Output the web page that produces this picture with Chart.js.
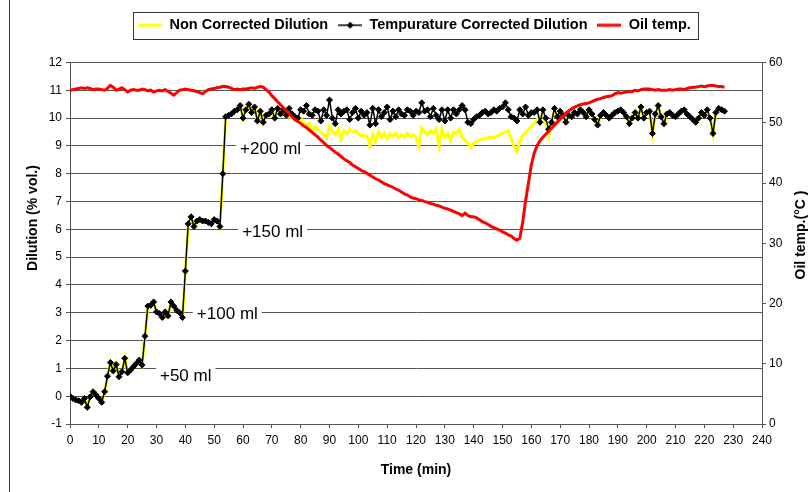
<!DOCTYPE html>
<html>
<head>
<meta charset="utf-8">
<script src="https://cdn.jsdelivr.net/npm/chart.js@4/dist/chart.umd.min.js"></script>
<style>
  html, body { margin: 0; padding: 0; background: #fff; }
  #wrap { width: 811px; height: 492px; }
</style>
</head>
<body>
<div id="wrap"><canvas id="dilutionChart" width="811" height="492"></canvas></div>
<script>
// one reading per minute, starting at t = 0
var dilutionRaw = [
  0.00, -0.08, -0.14, -0.16, -0.22, -0.08, -0.40, -0.02, 0.16, 0.04,
  -0.08, -0.22, 0.16, 0.72, 1.21, 0.91, 1.14, 0.70, 0.88, 1.36,
  0.84, 0.94, 1.06, 1.18, 1.30, 1.12, 2.16, 3.24, 3.27, 3.39,
  3.03, 2.97, 2.83, 3.03, 2.89, 3.39, 3.24, 3.09, 3.00, 2.83,
  4.50, 6.20, 6.45, 6.10, 6.30, 6.35, 6.30, 6.30, 6.25, 6.20,
  6.35, 6.30, 6.10, 8.00, 10.05, 10.10, 10.15, 10.25, 10.30, 10.45,
  10.00, 10.30, 10.50, 10.20, 10.40, 9.90, 10.25, 9.85, 10.10, 10.15,
  10.30, 10.00, 10.35, 10.15, 10.30, 10.05, 10.05, 10.00, 9.95, 9.90,
  10.00, 9.85, 9.70, 9.80, 9.55, 9.70, 9.60, 9.50, 9.40, 9.28,
  9.70, 9.50, 9.40, 9.60, 9.25, 9.55, 9.45, 9.60, 9.50, 9.55,
  9.45, 9.35, 9.40, 9.35, 9.00, 9.40, 9.15, 9.50, 9.30, 9.45,
  9.25, 9.45, 9.35, 9.45, 9.30, 9.40, 9.30, 9.45, 9.35, 9.40,
  9.30, 9.00, 9.65, 9.50, 9.40, 9.55, 9.45, 9.60, 9.00, 9.60,
  9.30, 9.45, 9.20, 9.50, 9.45, 9.60, 9.30, 9.20, 9.10, 8.95,
  9.10, 9.15, 9.20, 9.25, 9.25, 9.30, 9.30, 9.30, 9.35, 9.40,
  9.45, 9.50, 9.55, 9.25, 9.00, 8.80, 9.15, 9.40, 9.45, 9.60,
  9.70, 9.80, 9.95, 10.05, 10.10, 9.80, 9.35, 9.80, 10.30, 10.00,
  10.20, 10.10, 9.85, 10.10, 10.05, 10.20, 10.15, 10.30, 10.20, 10.05,
  10.30, 10.15, 9.95, 9.75, 10.10, 10.20, 10.10, 10.00, 10.10, 10.20,
  10.25, 10.30, 10.20, 10.05, 9.80, 10.00, 10.20, 10.00, 10.40, 10.00,
  10.20, 10.25, 9.45, 10.15, 10.45, 10.05, 9.80, 10.15, 10.20, 10.10,
  10.05, 10.15, 10.25, 10.30, 10.15, 10.05, 9.95, 9.85, 10.00, 10.20,
  10.10, 10.30, 10.00, 9.45, 10.20, 10.35, 10.30, 10.25
];

var dilutionCorrected = [
  0.00, -0.08, -0.14, -0.16, -0.22, -0.08, -0.40, -0.02, 0.16, 0.04,
  -0.08, -0.22, 0.16, 0.72, 1.21, 0.91, 1.14, 0.70, 0.88, 1.36,
  0.84, 0.94, 1.06, 1.18, 1.30, 1.12, 2.16, 3.24, 3.27, 3.39,
  3.03, 2.97, 2.83, 3.03, 2.89, 3.39, 3.24, 3.09, 3.00, 2.83,
  4.50, 6.20, 6.45, 6.10, 6.30, 6.35, 6.30, 6.30, 6.25, 6.20,
  6.35, 6.30, 6.10, 8.00, 10.05, 10.10, 10.15, 10.25, 10.30, 10.45,
  10.00, 10.30, 10.50, 10.20, 10.40, 9.90, 10.25, 9.85, 10.10, 10.15,
  10.30, 10.00, 10.35, 10.15, 10.30, 10.10, 10.35, 10.15, 10.05, 10.00,
  10.30, 10.25, 10.45, 10.15, 10.10, 10.30, 10.25, 9.90, 10.30, 10.10,
  10.65, 10.00, 9.80, 10.30, 10.15, 10.25, 10.30, 9.95, 10.20, 10.35,
  10.00, 10.25, 10.10, 10.20, 9.75, 10.35, 9.80, 10.30, 10.05, 10.20,
  10.40, 9.95, 10.25, 10.05, 10.30, 10.15, 10.10, 10.30, 10.25, 10.10,
  10.25, 10.20, 10.55, 10.25, 10.30, 10.05, 10.35, 10.10, 9.95, 10.30,
  9.90, 10.30, 10.00, 10.30, 10.15, 10.30, 10.45, 10.30, 9.85, 9.80,
  9.95, 10.05, 10.10, 10.20, 10.25, 10.15, 10.20, 10.30, 10.25, 10.35,
  10.40, 10.55, 10.30, 10.05, 10.00, 9.90, 10.30, 10.15, 10.40, 10.10,
  10.20, 10.20, 10.30, 9.85, 10.30, 10.00, 9.60, 9.85, 10.35, 10.05,
  10.25, 10.10, 9.85, 10.10, 10.05, 10.20, 10.15, 10.30, 10.20, 10.05,
  10.30, 10.15, 9.95, 9.75, 10.10, 10.20, 10.10, 10.00, 10.10, 10.20,
  10.25, 10.30, 10.20, 10.05, 9.80, 10.00, 10.20, 10.00, 10.40, 10.00,
  10.20, 10.25, 9.45, 10.15, 10.45, 10.05, 9.80, 10.15, 10.20, 10.10,
  10.05, 10.15, 10.25, 10.30, 10.15, 10.05, 9.95, 9.85, 10.00, 10.20,
  10.10, 10.30, 10.00, 9.45, 10.20, 10.35, 10.30, 10.25
];

var oilTemp = [
  55.4, 55.5, 55.6, 55.7, 55.8, 55.7, 55.8, 55.7, 55.5, 55.6,
  55.6, 55.5, 55.4, 55.7, 56.2, 55.9, 55.4, 55.6, 55.8, 55.5,
  55.1, 55.4, 55.5, 55.4, 55.4, 55.6, 55.5, 55.3, 55.4, 55.1,
  55.3, 55.4, 55.3, 55.5, 55.2, 54.9, 54.6, 55.0, 55.4, 55.5,
  55.6, 55.5, 55.4, 55.3, 55.2, 55.0, 54.8, 55.2, 55.5, 55.6,
  55.7, 55.8, 55.9, 56.0, 56.0, 55.9, 55.7, 55.5, 55.6, 55.5,
  55.6, 55.6, 55.7, 55.8, 55.7, 55.9, 56.0, 55.9, 55.5, 55.1,
  54.5, 54.0, 53.5, 53.0, 52.5, 52.0, 51.5, 51.0, 50.5, 50.2,
  49.9, 49.5, 49.2, 48.8, 48.4, 48.0, 47.6, 47.1, 46.7, 46.2,
  45.9, 45.5, 45.1, 44.8, 44.4, 44.0, 43.7, 43.4, 43.0, 42.7,
  42.4, 42.1, 41.9, 41.6, 41.3, 41.0, 40.7, 40.5, 40.2, 39.9,
  39.7, 39.5, 39.3, 39.0, 38.8, 38.5, 38.2, 38.0, 37.7, 37.5,
  37.4, 37.2, 37.1, 36.9, 36.8, 36.6, 36.5, 36.3, 36.2, 36.0,
  35.8, 35.7, 35.5, 35.3, 35.1, 34.9, 34.6, 35.0, 34.6, 34.4,
  34.4, 34.2, 33.9, 33.6, 33.4, 33.1, 32.8, 32.6, 32.4, 32.2,
  31.9, 31.7, 31.4, 31.2, 30.8, 30.5, 30.8, 33.5, 37.0, 40.0,
  43.0, 45.0, 46.2, 47.0, 47.6, 48.1, 48.6, 49.1, 49.6, 50.1,
  50.6, 51.1, 51.6, 52.0, 52.3, 52.6, 52.8, 53.0, 53.1, 53.2,
  53.3, 53.5, 53.7, 53.9, 54.0, 54.2, 54.3, 54.4, 54.5, 54.8,
  55.0, 54.9, 55.0, 55.1, 55.2, 55.2, 55.4, 55.3, 55.5, 55.6,
  55.6, 55.6, 55.5, 55.4, 55.5, 55.4, 55.4, 55.4, 55.5, 55.4,
  55.5, 55.6, 55.6, 55.5, 55.7, 55.8, 55.9, 55.9, 56.0, 56.1,
  56.0, 56.1, 56.2, 56.2, 56.1, 56.0, 56.0, 55.9
];

var timeMin = dilutionCorrected.map(function (v, i) { return i; });

var seriesNames = ['Non Corrected Dilution', 'Tempurature Corrected Dilution', 'Oil temp.'];

// axis ranges: [min, max, step]
var timeAxis = [0, 240, 10];
var dilutionAxis = [-1, 12, 1];
var tempAxis = [0, 60, 10];

// oil additions written on the plot
var additionLabels = ['+50 ml', '+100 ml', '+150 ml', '+200 ml'];

var FONT = '"Liberation Sans", Arial, Helvetica, sans-serif';
Chart.defaults.font.family = FONT;
Chart.defaults.color = '#000';

function toXY(vals) {
  return vals.map(function (v, i) { return { x: timeMin[i], y: v }; });
}

// small line samples for the legend
function legendSample(color, width, marker) {
  var c = document.createElement('canvas');
  c.width = 24; c.height = 10;
  var g = c.getContext('2d');
  g.strokeStyle = color;
  g.lineWidth = width;
  g.beginPath(); g.moveTo(0, 5); g.lineTo(24, 5); g.stroke();
  if (marker) {
    g.fillStyle = color;
    g.beginPath();
    g.moveTo(12, 1.5); g.lineTo(15.5, 5); g.lineTo(12, 8.5); g.lineTo(8.5, 5);
    g.closePath(); g.fill();
  }
  return c;
}
var samples = [legendSample('#FFFF00', 3, false), legendSample('#000000', 1.5, true), legendSample('#FF0000', 3, false)];

// where the addition texts sit, in (min, % vol.)
var additionAnchors = [[31.2, 0.72], [44.0, 2.94], [59.7, 5.90], [59.0, 8.88]];

var extras = {
  id: 'extras',
  beforeInit: function (chart) {
    // leave a gap between legend and plot
    var fit = chart.legend.fit;
    chart.legend.fit = function () { fit.call(this); this.height += 20; };
  },
  beforeDatasetsDraw: function (chart) {
    var ctx = chart.ctx, xs = chart.scales.x, ys = chart.scales.y;
    ctx.save();
    ctx.font = '17px ' + FONT;
    ctx.textBaseline = 'middle';
    additionLabels.forEach(function (txt, i) {
      var px = xs.getPixelForValue(additionAnchors[i][0]);
      var py = ys.getPixelForValue(additionAnchors[i][1]);
      var w = ctx.measureText(txt).width;
      ctx.fillStyle = '#fff';
      ctx.fillRect(px - 4, py - 9, w + 8, 18);
      ctx.fillStyle = '#000';
      ctx.fillText(txt, px, py);
    });
    ctx.restore();
  },
  afterDraw: function (chart) {
    var ctx = chart.ctx, area = chart.chartArea;
    ctx.save();
    // legend frame
    var hb = chart.legend.legendHitBoxes;
    var last = hb[hb.length - 1];
    var l = Math.round(hb[0].left - 5), r = Math.round(last.left + last.width + 7);
    var t = Math.round(hb[0].top - 6), b = Math.round(hb[0].top + hb[0].height + 6);
    ctx.strokeStyle = '#333';
    ctx.lineWidth = 1;
    ctx.strokeRect(l + 0.5, t + 0.5, r - l, b - t);
    // outer frame line on the left
    ctx.beginPath(); ctx.moveTo(9.5, 0); ctx.lineTo(9.5, 492); ctx.stroke();
    // axis titles
    ctx.fillStyle = '#000';
    ctx.font = 'bold 14px ' + FONT;
    ctx.textAlign = 'center';
    ctx.textBaseline = 'middle';
    ctx.fillText('Time (min)', (area.left + area.right) / 2, 470);
    ctx.save();
    ctx.translate(33, 218); ctx.rotate(-Math.PI / 2);
    ctx.fillText('Dilution (% vol.)', 0, 0);
    ctx.restore();
    ctx.save();
    ctx.translate(801, 235); ctx.rotate(-Math.PI / 2);
    ctx.fillText('Oil temp.(°C )', 0, 0);
    ctx.restore();
    ctx.restore();
  }
};

var ctx = document.getElementById('dilutionChart').getContext('2d');
var chart = new Chart(ctx, {
  type: 'line',
  data: {
    datasets: [{
      label: seriesNames[0],
      data: toXY(dilutionRaw),
      yAxisID: 'y',
      borderColor: '#FFFF00',
      borderWidth: 3,
      pointRadius: 0,
      order: 3
    }, {
      label: seriesNames[1],
      data: toXY(dilutionCorrected),
      yAxisID: 'y',
      borderColor: '#000000',
      borderWidth: 1.5,
      pointStyle: 'rectRot',
      pointRadius: 3,
      pointBackgroundColor: '#000000',
      pointBorderColor: '#000000',
      pointBorderWidth: 1,
      order: 2
    }, {
      label: seriesNames[2],
      data: toXY(oilTemp),
      yAxisID: 'y2',
      borderColor: '#FF0000',
      borderWidth: 3,
      pointRadius: 0,
      order: 1
    }]
  },
  options: {
    responsive: false,
    animation: false,
    layout: { padding: { top: 8, left: 18, right: 0, bottom: 0 } },
    plugins: {
      tooltip: { enabled: false },
      legend: {
        position: 'top',
        labels: {
          usePointStyle: true,
          pointStyleWidth: 24,
          boxHeight: 10,
          padding: 10,
          color: '#000',
          font: { size: 14.5, weight: 'bold' },
          generateLabels: function (chart) {
            return chart.data.datasets.map(function (ds, i) {
              return {
                text: ds.label, pointStyle: samples[i], datasetIndex: i, hidden: false,
                lineWidth: 0, fillStyle: ds.borderColor, strokeStyle: ds.borderColor, fontColor: '#000'
              };
            });
          }
        }
      }
    },
    scales: {
      x: {
        type: 'linear',
        min: timeAxis[0], max: timeAxis[1],
        ticks: { stepSize: timeAxis[2], autoSkip: false, maxRotation: 0, padding: 5, font: { size: 12 } },
        grid: { drawOnChartArea: false, tickLength: 4, color: '#555' },
        border: { color: '#555' },
        afterFit: function (s) { s.height = 68; }
      },
      y: {
        position: 'left',
        min: dilutionAxis[0], max: dilutionAxis[1],
        ticks: { stepSize: dilutionAxis[2], padding: 4, font: { size: 12 } },
        grid: { color: '#555', tickLength: 4 },
        border: { color: '#555' },
        afterFit: function (s) { s.width = 52; }
      },
      y2: {
        position: 'right',
        min: tempAxis[0], max: tempAxis[1],
        ticks: { stepSize: tempAxis[2], padding: 3, font: { size: 12 } },
        grid: { drawOnChartArea: false, tickLength: 4, color: '#555' },
        border: { color: '#555' },
        afterFit: function (s) { s.width = 49; }
      }
    }
  },
  plugins: [extras]
});
</script>
</body>
</html>
